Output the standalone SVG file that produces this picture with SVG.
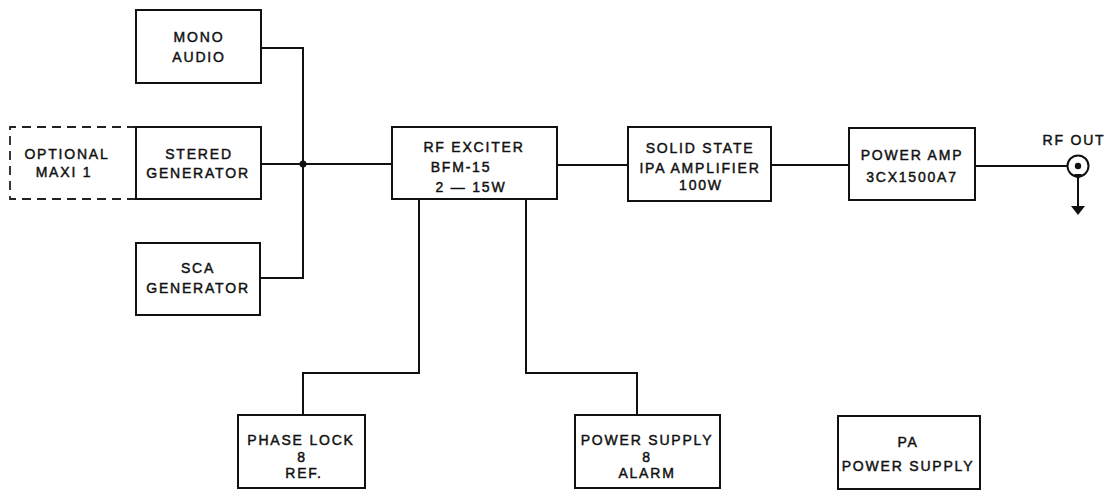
<svg xmlns="http://www.w3.org/2000/svg" width="1113" height="491" viewBox="0 0 1113 491">
<style>
.box{fill:#fff;stroke:#111;stroke-width:2}
.dash{fill:none;stroke:#222;stroke-width:1.8;stroke-dasharray:9 6}
.ln{fill:none;stroke:#111;stroke-width:2}
text{font-family:"Liberation Sans",Arial,sans-serif;font-size:14px;letter-spacing:1.8px;fill:#111;stroke:#111;stroke-width:0.45;text-anchor:middle}
</style>
<rect width="1113" height="491" fill="#fff"/>
<g id="connectors">
<polyline class="ln" points="261,48 303,48 303,278 260,278"/>
<line class="ln" x1="261" y1="164" x2="392" y2="164"/>
<circle cx="303" cy="164" r="3.5" fill="#111"/>
<line class="ln" x1="557" y1="165" x2="628" y2="165"/>
<line class="ln" x1="771" y1="165" x2="849" y2="165"/>
<line class="ln" x1="975" y1="166" x2="1067" y2="166"/>
<polyline class="ln" points="419,199 419,373 303,373 303,415"/>
<polyline class="ln" points="526,199 526,373 637,373 637,415"/>
</g>
<g id="rf-out">
<circle cx="1078" cy="166" r="10.5" fill="none" stroke="#111" stroke-width="2"/>
<circle cx="1078" cy="166" r="3.2" fill="#111"/>
<polygon points="1074,174 1082,174 1078,180" fill="#111"/>
<line class="ln" x1="1078" y1="174" x2="1078" y2="207"/>
<polygon points="1071,206 1085,206 1078,215" fill="#111"/>
<text x="1074" y="145">RF OUT</text>
</g>
<g id="optional-maxi">
<polyline class="dash" points="136,127 10,127 10,199 136,199"/>
<text x="67" y="159">OPTIONAL</text>
<text x="64" y="177">MAXI  1</text>
</g>
<g id="mono-audio">
<rect class="box" x="136" y="10" width="125" height="73"/>
<text x="199" y="42">MONO</text>
<text x="199" y="62">AUDIO</text>
</g>
<g id="stereo-generator">
<rect class="box" x="136" y="127" width="125" height="72"/>
<text x="199" y="159">STERED</text>
<text x="198" y="178">GENERATOR</text>
</g>
<g id="sca-generator">
<rect class="box" x="136" y="243" width="124" height="72"/>
<text x="198" y="273">SCA</text>
<text x="198" y="293">GENERATOR</text>
</g>
<g id="rf-exciter">
<rect class="box" x="392" y="127" width="165" height="72"/>
<text x="474" y="152">RF EXCITER</text>
<text x="461" y="172">BFM-15</text>
<text x="471" y="192">2 — 15W</text>
</g>
<g id="solid-state">
<rect class="box" x="628" y="127" width="143" height="74"/>
<text x="700" y="153">SOLID STATE</text>
<text x="700" y="173">IPA AMPLIFIER</text>
<text x="701" y="190">100W</text>
</g>
<g id="power-amp">
<rect class="box" x="849" y="128" width="126" height="72"/>
<text x="912" y="160">POWER AMP</text>
<text x="912" y="182">3CX1500A7</text>
</g>
<g id="phase-lock">
<rect class="box" x="238" y="415" width="127" height="73"/>
<text x="301" y="445">PHASE LOCK</text>
<text x="302" y="462">8</text>
<text x="304" y="478">REF.</text>
</g>
<g id="power-supply-alarm">
<rect class="box" x="575" y="415" width="145" height="73"/>
<text x="647" y="445">POWER SUPPLY</text>
<text x="647" y="462">8</text>
<text x="647" y="478">ALARM</text>
</g>
<g id="pa-power-supply">
<rect class="box" x="838" y="416" width="142" height="73"/>
<text x="908" y="447">PA</text>
<text x="908" y="471">POWER SUPPLY</text>
</g>
</svg>
